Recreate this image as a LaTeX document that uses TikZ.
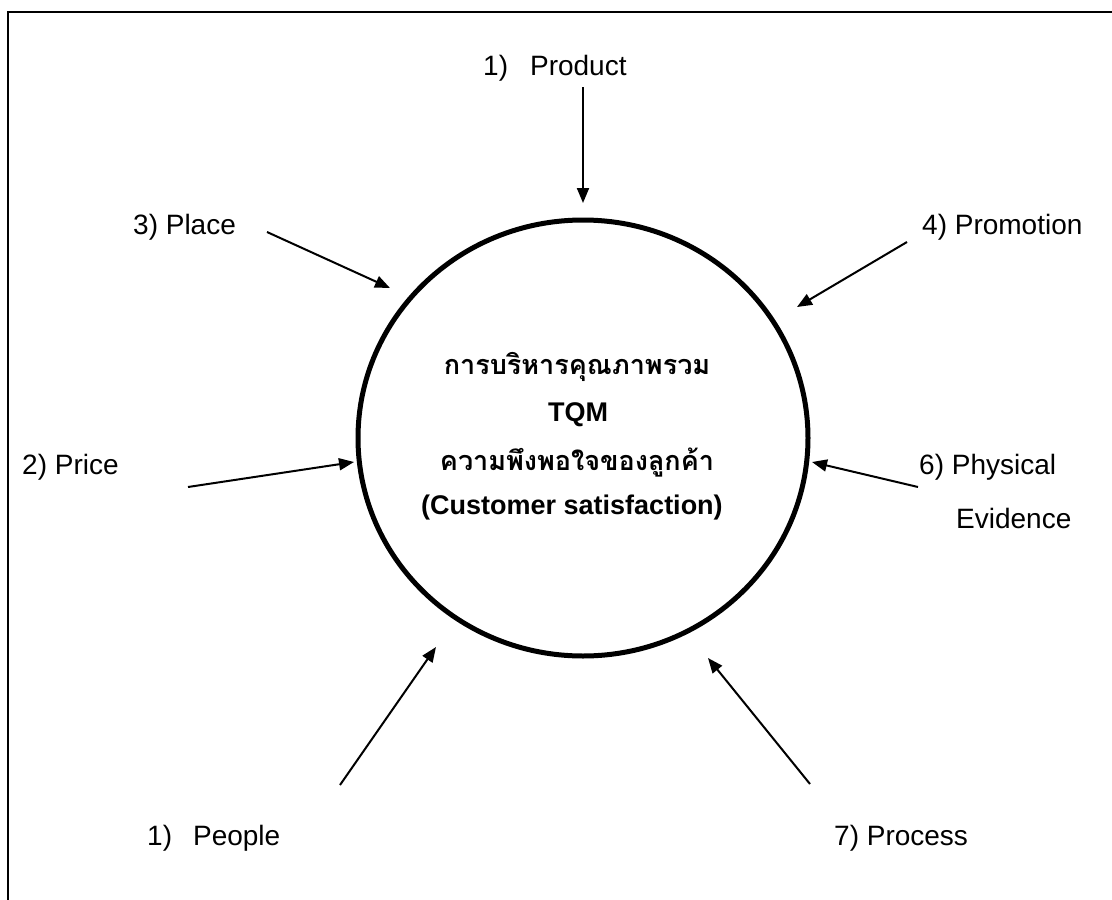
\documentclass[tikz,border=0pt]{standalone}
\usepackage{fontspec}
\setmainfont{Liberation Sans}
\newfontfamily\thaifont[Script=Thai]{Loma}
\usetikzlibrary{shapes.geometric,arrows.meta}
\begin{document}
\begin{tikzpicture}[x=1pt,y=-1pt,
  lbl/.style={inner sep=0pt, font=\fontsize{28}{34}\selectfont, anchor=west},
  conn/.style={line width=2pt, -{Triangle[length=15pt,width=12pt]}},
  ctext/.style={inner sep=0pt, font=\fontsize{27}{32}\selectfont\bfseries},
  thai/.style={inner sep=0pt, font=\fontsize{27}{32}\selectfont\thaifont\bfseries},
  ring/.style={draw, ellipse, line width=5pt, minimum width=450pt, minimum height=436pt, inner sep=0pt}]
\useasboundingbox (0,0) rectangle (1112,900);
\draw[line width=2pt] (8,900) -- (8,12) -- (1112,12);
\node[ring] (ring) at (583,438) {};
\node[thai] (t1) at (577,367) {การบริหารคุณภาพรวม};
\node[ctext] (t2) at (578,415) {TQM};
\node[thai] (t3) at (577,463) {ความพึงพอใจของลูกค้า};
\node[ctext] (t4) at (572,508) {(Customer satisfaction)};
% labels
\node[lbl] (product) at (483,68) {1)\hspace{22pt}Product};
\node[lbl] (place) at (133,227) {3) Place};
\node[lbl] (promotion) at (922,227) {4) Promotion};
\node[lbl] (price) at (22,467) {2) Price};
\node[lbl] (physical) at (919,467) {6) Physical};
\node[lbl] (evidence) at (956,518) {Evidence};
\node[lbl] (people) at (147,838) {1)\hspace{21pt}People};
\node[lbl] (process) at (834,838) {7) Process};
% connector ends
\coordinate (prodA) at (583,87);  \coordinate (prodB) at (583,203);
\coordinate (placA) at (267,232); \coordinate (placB) at (390,288);
\coordinate (promA) at (907,242); \coordinate (promB) at (797,307);
\coordinate (pricA) at (188,487); \coordinate (pricB) at (354,462);
\coordinate (physA) at (918,487); \coordinate (physB) at (812,462);
\coordinate (peopA) at (340,785); \coordinate (peopB) at (436,647);
\coordinate (procA) at (810,784); \coordinate (procB) at (708,658);
\draw[conn] (prodA) -- (prodB);
\draw[conn] (placA) -- (placB);
\draw[conn] (promA) -- (promB);
\draw[conn] (pricA) -- (pricB);
\draw[conn] (physA) -- (physB);
\draw[conn] (peopA) -- (peopB);
\draw[conn] (procA) -- (procB);
\end{tikzpicture}
\end{document}
